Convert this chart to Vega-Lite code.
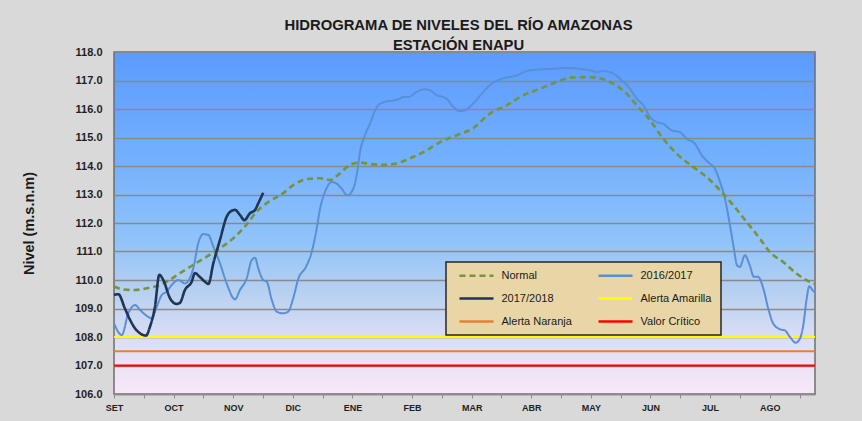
{
  "$schema": "https://vega.github.io/schema/vega-lite/v6.json",
  "width": 701,
  "height": 342,
  "autosize": {"type": "none"},
  "padding": {"left": 114, "top": 52, "right": 47, "bottom": 27},
  "background": "#d9d9d9",
  "title": {
    "text": ["HIDROGRAMA DE NIVELES DEL RÍO AMAZONAS", "ESTACIÓN ENAPU"],
    "font": "Liberation Sans",
    "fontSize": 14.8,
    "fontWeight": "bold",
    "color": "#1a1a1a",
    "lineHeight": 20,
    "anchor": "middle",
    "frame": "group",
    "dx": -6,
    "offset": -7
  },
  "config": {
    "view": {
      "fill": {
        "gradient": "linear",
        "x1": 0, "y1": 0, "x2": 0, "y2": 1,
        "stops": [
          {"offset": 0, "color": "#5b9bff"},
          {"offset": 0.3, "color": "#72affd"},
          {"offset": 0.55, "color": "#90c3f9"},
          {"offset": 0.7, "color": "#b6d0f1"},
          {"offset": 0.84, "color": "#dcdef4"},
          {"offset": 1, "color": "#f8e8f8"}
        ]
      },
      "stroke": "#6e6e6e",
      "strokeWidth": 1.5
    },
    "legend": {
      "fillColor": "#e9d6a6",
      "strokeColor": "#262626",
      "strokeWidth": 1.5,
      "padding": 8,
      "labelFont": "Liberation Sans",
      "labelFontSize": 11,
      "labelColor": "#1a1a1a",
      "labelOffset": 36.5,
      "symbolType": "M0,0H8",
      "symbolSize": 72.25,
      "symbolStrokeWidth": 2.5,
      "rowPadding": 11,
      "columnPadding": 21,
      "direction": "horizontal"
    }
  },
  "datasets": {
    "series": [
      {"serie": "Alerta Amarilla", "dia": 0, "nivel": 108.0},
      {"serie": "Alerta Amarilla", "dia": 352.8, "nivel": 108.0},
      {"serie": "Alerta Naranja", "dia": 0, "nivel": 107.5},
      {"serie": "Alerta Naranja", "dia": 352.8, "nivel": 107.5},
      {"serie": "Valor Crítico", "dia": 0, "nivel": 107.0},
      {"serie": "Valor Crítico", "dia": 352.8, "nivel": 107.0},

      {"serie": "2016/2017", "dia": 0, "nivel": 108.48},
      {"serie": "2016/2017", "dia": 3.9, "nivel": 108.07},
      {"serie": "2016/2017", "dia": 7.2, "nivel": 108.83},
      {"serie": "2016/2017", "dia": 10.6, "nivel": 109.12},
      {"serie": "2016/2017", "dia": 13.1, "nivel": 108.95},
      {"serie": "2016/2017", "dia": 16.5, "nivel": 108.74},
      {"serie": "2016/2017", "dia": 19.0, "nivel": 108.66},
      {"serie": "2016/2017", "dia": 21.5, "nivel": 109.06},
      {"serie": "2016/2017", "dia": 24.0, "nivel": 109.47},
      {"serie": "2016/2017", "dia": 26.5, "nivel": 109.59},
      {"serie": "2016/2017", "dia": 29.0, "nivel": 109.82},
      {"serie": "2016/2017", "dia": 32.4, "nivel": 110.0},
      {"serie": "2016/2017", "dia": 35.7, "nivel": 109.88},
      {"serie": "2016/2017", "dia": 39.9, "nivel": 110.41},
      {"serie": "2016/2017", "dia": 42.4, "nivel": 111.29},
      {"serie": "2016/2017", "dia": 44.9, "nivel": 111.61},
      {"serie": "2016/2017", "dia": 47.5, "nivel": 111.58},
      {"serie": "2016/2017", "dia": 50.0, "nivel": 111.17},
      {"serie": "2016/2017", "dia": 53.3, "nivel": 110.59},
      {"serie": "2016/2017", "dia": 56.7, "nivel": 109.88},
      {"serie": "2016/2017", "dia": 60.9, "nivel": 109.32},
      {"serie": "2016/2017", "dia": 63.4, "nivel": 109.65},
      {"serie": "2016/2017", "dia": 66.8, "nivel": 110.06},
      {"serie": "2016/2017", "dia": 69.3, "nivel": 110.7},
      {"serie": "2016/2017", "dia": 71.0, "nivel": 110.78},
      {"serie": "2016/2017", "dia": 72.6, "nivel": 110.41},
      {"serie": "2016/2017", "dia": 75.1, "nivel": 110.0},
      {"serie": "2016/2017", "dia": 76.9, "nivel": 109.94},
      {"serie": "2016/2017", "dia": 79.4, "nivel": 109.3},
      {"serie": "2016/2017", "dia": 81.9, "nivel": 108.89},
      {"serie": "2016/2017", "dia": 85.2, "nivel": 108.83},
      {"serie": "2016/2017", "dia": 87.7, "nivel": 108.89},
      {"serie": "2016/2017", "dia": 90.2, "nivel": 109.36},
      {"serie": "2016/2017", "dia": 92.8, "nivel": 110.05},
      {"serie": "2016/2017", "dia": 96.6, "nivel": 110.46},
      {"serie": "2016/2017", "dia": 99.5, "nivel": 110.98},
      {"serie": "2016/2017", "dia": 102.0, "nivel": 111.8},
      {"serie": "2016/2017", "dia": 103.7, "nivel": 112.5},
      {"serie": "2016/2017", "dia": 106.2, "nivel": 113.09},
      {"serie": "2016/2017", "dia": 109.6, "nivel": 113.44},
      {"serie": "2016/2017", "dia": 112.1, "nivel": 113.38},
      {"serie": "2016/2017", "dia": 114.6, "nivel": 113.2},
      {"serie": "2016/2017", "dia": 117.4, "nivel": 112.97},
      {"serie": "2016/2017", "dia": 120.4, "nivel": 113.2},
      {"serie": "2016/2017", "dia": 122.4, "nivel": 113.79},
      {"serie": "2016/2017", "dia": 123.8, "nivel": 114.49},
      {"serie": "2016/2017", "dia": 126.3, "nivel": 115.08},
      {"serie": "2016/2017", "dia": 128.8, "nivel": 115.48},
      {"serie": "2016/2017", "dia": 131.4, "nivel": 115.95},
      {"serie": "2016/2017", "dia": 133.0, "nivel": 116.13},
      {"serie": "2016/2017", "dia": 136.4, "nivel": 116.25},
      {"serie": "2016/2017", "dia": 140.6, "nivel": 116.3},
      {"serie": "2016/2017", "dia": 143.9, "nivel": 116.36},
      {"serie": "2016/2017", "dia": 145.6, "nivel": 116.42},
      {"serie": "2016/2017", "dia": 148.1, "nivel": 116.42},
      {"serie": "2016/2017", "dia": 152.3, "nivel": 116.6},
      {"serie": "2016/2017", "dia": 156.0, "nivel": 116.69},
      {"serie": "2016/2017", "dia": 159.0, "nivel": 116.66},
      {"serie": "2016/2017", "dia": 162.4, "nivel": 116.48},
      {"serie": "2016/2017", "dia": 165.7, "nivel": 116.42},
      {"serie": "2016/2017", "dia": 167.4, "nivel": 116.36},
      {"serie": "2016/2017", "dia": 170.8, "nivel": 116.07},
      {"serie": "2016/2017", "dia": 174.1, "nivel": 115.92},
      {"serie": "2016/2017", "dia": 176.6, "nivel": 115.95},
      {"serie": "2016/2017", "dia": 180.8, "nivel": 116.19},
      {"serie": "2016/2017", "dia": 185.1, "nivel": 116.54},
      {"serie": "2016/2017", "dia": 190.1, "nivel": 116.89},
      {"serie": "2016/2017", "dia": 195.1, "nivel": 117.06},
      {"serie": "2016/2017", "dia": 202.7, "nivel": 117.18},
      {"serie": "2016/2017", "dia": 207.7, "nivel": 117.33},
      {"serie": "2016/2017", "dia": 214.4, "nivel": 117.39},
      {"serie": "2016/2017", "dia": 221.1, "nivel": 117.41},
      {"serie": "2016/2017", "dia": 227.8, "nivel": 117.44},
      {"serie": "2016/2017", "dia": 234.5, "nivel": 117.41},
      {"serie": "2016/2017", "dia": 239.6, "nivel": 117.36},
      {"serie": "2016/2017", "dia": 242.9, "nivel": 117.3},
      {"serie": "2016/2017", "dia": 246.3, "nivel": 117.33},
      {"serie": "2016/2017", "dia": 251.3, "nivel": 117.24},
      {"serie": "2016/2017", "dia": 255.5, "nivel": 117.01},
      {"serie": "2016/2017", "dia": 259.7, "nivel": 116.71},
      {"serie": "2016/2017", "dia": 263.1, "nivel": 116.36},
      {"serie": "2016/2017", "dia": 266.4, "nivel": 116.13},
      {"serie": "2016/2017", "dia": 269.8, "nivel": 115.72},
      {"serie": "2016/2017", "dia": 273.1, "nivel": 115.54},
      {"serie": "2016/2017", "dia": 276.4, "nivel": 115.48},
      {"serie": "2016/2017", "dia": 280.7, "nivel": 115.25},
      {"serie": "2016/2017", "dia": 284.8, "nivel": 115.19},
      {"serie": "2016/2017", "dia": 288.2, "nivel": 114.96},
      {"serie": "2016/2017", "dia": 292.4, "nivel": 114.78},
      {"serie": "2016/2017", "dia": 295.8, "nivel": 114.38},
      {"serie": "2016/2017", "dia": 299.9, "nivel": 114.08},
      {"serie": "2016/2017", "dia": 302.4, "nivel": 113.91},
      {"serie": "2016/2017", "dia": 305.0, "nivel": 113.44},
      {"serie": "2016/2017", "dia": 307.5, "nivel": 112.85},
      {"serie": "2016/2017", "dia": 310.0, "nivel": 111.92},
      {"serie": "2016/2017", "dia": 311.7, "nivel": 111.22},
      {"serie": "2016/2017", "dia": 313.7, "nivel": 110.5},
      {"serie": "2016/2017", "dia": 315.0, "nivel": 110.46},
      {"serie": "2016/2017", "dia": 317.5, "nivel": 110.87},
      {"serie": "2016/2017", "dia": 319.7, "nivel": 110.57},
      {"serie": "2016/2017", "dia": 322.1, "nivel": 110.11},
      {"serie": "2016/2017", "dia": 324.2, "nivel": 110.11},
      {"serie": "2016/2017", "dia": 326.8, "nivel": 109.7},
      {"serie": "2016/2017", "dia": 329.3, "nivel": 108.99},
      {"serie": "2016/2017", "dia": 331.8, "nivel": 108.47},
      {"serie": "2016/2017", "dia": 335.2, "nivel": 108.27},
      {"serie": "2016/2017", "dia": 337.7, "nivel": 108.23},
      {"serie": "2016/2017", "dia": 340.2, "nivel": 108.0},
      {"serie": "2016/2017", "dia": 343.1, "nivel": 107.8},
      {"serie": "2016/2017", "dia": 345.2, "nivel": 107.94},
      {"serie": "2016/2017", "dia": 346.9, "nivel": 108.41},
      {"serie": "2016/2017", "dia": 348.6, "nivel": 109.34},
      {"serie": "2016/2017", "dia": 349.9, "nivel": 109.78},
      {"serie": "2016/2017", "dia": 351.6, "nivel": 109.64},
      {"serie": "2016/2017", "dia": 352.8, "nivel": 109.56},

      {"serie": "Normal", "dia": 0, "nivel": 109.77},
      {"serie": "Normal", "dia": 4.7, "nivel": 109.67},
      {"serie": "Normal", "dia": 10.6, "nivel": 109.65},
      {"serie": "Normal", "dia": 16.5, "nivel": 109.71},
      {"serie": "Normal", "dia": 21.5, "nivel": 109.79},
      {"serie": "Normal", "dia": 26.5, "nivel": 109.94},
      {"serie": "Normal", "dia": 33.2, "nivel": 110.24},
      {"serie": "Normal", "dia": 39.9, "nivel": 110.53},
      {"serie": "Normal", "dia": 46.7, "nivel": 110.82},
      {"serie": "Normal", "dia": 53.3, "nivel": 111.11},
      {"serie": "Normal", "dia": 60.0, "nivel": 111.46},
      {"serie": "Normal", "dia": 66.8, "nivel": 111.95},
      {"serie": "Normal", "dia": 71.8, "nivel": 112.4},
      {"serie": "Normal", "dia": 76.9, "nivel": 112.7},
      {"serie": "Normal", "dia": 85.2, "nivel": 113.05},
      {"serie": "Normal", "dia": 90.2, "nivel": 113.33},
      {"serie": "Normal", "dia": 97.0, "nivel": 113.54},
      {"serie": "Normal", "dia": 103.7, "nivel": 113.57},
      {"serie": "Normal", "dia": 108.7, "nivel": 113.51},
      {"serie": "Normal", "dia": 113.7, "nivel": 113.74},
      {"serie": "Normal", "dia": 118.8, "nivel": 114.04},
      {"serie": "Normal", "dia": 123.8, "nivel": 114.12},
      {"serie": "Normal", "dia": 128.8, "nivel": 114.07},
      {"serie": "Normal", "dia": 135.5, "nivel": 114.04},
      {"serie": "Normal", "dia": 142.3, "nivel": 114.09},
      {"serie": "Normal", "dia": 149.0, "nivel": 114.27},
      {"serie": "Normal", "dia": 157.4, "nivel": 114.55},
      {"serie": "Normal", "dia": 164.1, "nivel": 114.84},
      {"serie": "Normal", "dia": 172.5, "nivel": 115.08},
      {"serie": "Normal", "dia": 180.8, "nivel": 115.33},
      {"serie": "Normal", "dia": 189.2, "nivel": 115.84},
      {"serie": "Normal", "dia": 197.6, "nivel": 116.13},
      {"serie": "Normal", "dia": 206.0, "nivel": 116.48},
      {"serie": "Normal", "dia": 214.4, "nivel": 116.71},
      {"serie": "Normal", "dia": 222.8, "nivel": 116.95},
      {"serie": "Normal", "dia": 231.2, "nivel": 117.11},
      {"serie": "Normal", "dia": 239.6, "nivel": 117.12},
      {"serie": "Normal", "dia": 246.3, "nivel": 117.04},
      {"serie": "Normal", "dia": 251.3, "nivel": 116.89},
      {"serie": "Normal", "dia": 258.0, "nivel": 116.54},
      {"serie": "Normal", "dia": 263.1, "nivel": 116.13},
      {"serie": "Normal", "dia": 269.8, "nivel": 115.6},
      {"serie": "Normal", "dia": 276.4, "nivel": 114.96},
      {"serie": "Normal", "dia": 283.2, "nivel": 114.43},
      {"serie": "Normal", "dia": 291.6, "nivel": 113.96},
      {"serie": "Normal", "dia": 298.3, "nivel": 113.61},
      {"serie": "Normal", "dia": 305.0, "nivel": 113.15},
      {"serie": "Normal", "dia": 311.7, "nivel": 112.62},
      {"serie": "Normal", "dia": 318.4, "nivel": 112.04},
      {"serie": "Normal", "dia": 325.1, "nivel": 111.45},
      {"serie": "Normal", "dia": 330.1, "nivel": 110.98},
      {"serie": "Normal", "dia": 336.8, "nivel": 110.63},
      {"serie": "Normal", "dia": 343.6, "nivel": 110.22},
      {"serie": "Normal", "dia": 348.6, "nivel": 109.99},
      {"serie": "Normal", "dia": 352.8, "nivel": 109.87},

      {"serie": "2017/2018", "dia": 0, "nivel": 109.48},
      {"serie": "2017/2018", "dia": 2.2, "nivel": 109.5},
      {"serie": "2017/2018", "dia": 5.5, "nivel": 109.0},
      {"serie": "2017/2018", "dia": 8.1, "nivel": 108.6},
      {"serie": "2017/2018", "dia": 10.6, "nivel": 108.3},
      {"serie": "2017/2018", "dia": 13.1, "nivel": 108.13},
      {"serie": "2017/2018", "dia": 16.1, "nivel": 108.05},
      {"serie": "2017/2018", "dia": 18.1, "nivel": 108.36},
      {"serie": "2017/2018", "dia": 20.6, "nivel": 109.06},
      {"serie": "2017/2018", "dia": 22.8, "nivel": 110.18},
      {"serie": "2017/2018", "dia": 24.8, "nivel": 110.0},
      {"serie": "2017/2018", "dia": 28.2, "nivel": 109.36},
      {"serie": "2017/2018", "dia": 31.5, "nivel": 109.16},
      {"serie": "2017/2018", "dia": 33.2, "nivel": 109.2},
      {"serie": "2017/2018", "dia": 35.7, "nivel": 109.65},
      {"serie": "2017/2018", "dia": 39.1, "nivel": 109.94},
      {"serie": "2017/2018", "dia": 40.7, "nivel": 110.24},
      {"serie": "2017/2018", "dia": 43.3, "nivel": 110.1},
      {"serie": "2017/2018", "dia": 45.8, "nivel": 109.94},
      {"serie": "2017/2018", "dia": 47.5, "nivel": 109.86},
      {"serie": "2017/2018", "dia": 50.0, "nivel": 110.59},
      {"serie": "2017/2018", "dia": 53.3, "nivel": 111.4},
      {"serie": "2017/2018", "dia": 56.7, "nivel": 112.22},
      {"serie": "2017/2018", "dia": 59.0, "nivel": 112.42},
      {"serie": "2017/2018", "dia": 60.9, "nivel": 112.46},
      {"serie": "2017/2018", "dia": 63.4, "nivel": 112.28},
      {"serie": "2017/2018", "dia": 65.6, "nivel": 112.1},
      {"serie": "2017/2018", "dia": 68.4, "nivel": 112.34},
      {"serie": "2017/2018", "dia": 71.0, "nivel": 112.46},
      {"serie": "2017/2018", "dia": 72.6, "nivel": 112.69},
      {"serie": "2017/2018", "dia": 75.1, "nivel": 113.06}
    ]
  },
  "data": {"name": "series"},
  "encoding": {
    "x": {
      "field": "dia",
      "type": "quantitative",
      "scale": {"domain": [0, 352.8], "nice": false, "zero": false},
      "axis": {
        "title": null,
        "grid": false,
        "values": [0, 15, 30, 45, 60, 75, 90, 105, 120, 135, 150, 165, 180, 195, 210, 225, 240, 255, 270, 285, 300, 315, 330, 345],
        "labelExpr": "datum.value % 30 == 0 ? ['SET','OCT','NOV','DIC','ENE','FEB','MAR','ABR','MAY','JUN','JUL','AGO'][datum.value / 30] : ''",
        "labelFont": "Liberation Sans",
        "labelFontSize": 9,
        "labelFontWeight": "bold",
        "labelColor": "#1f1f1f",
        "labelPadding": 5,
        "labelFlush": false,
        "labelOverlap": false,
        "tickColor": "#8c8c8c",
        "tickSize": 4,
        "domainColor": "#8c8c8c",
        "domainWidth": 1.5
      }
    },
    "y": {
      "field": "nivel",
      "type": "quantitative",
      "scale": {"domain": [106, 118], "nice": false, "zero": false},
      "axis": {
        "values": [106, 107, 108, 109, 110, 111, 112, 113, 114, 115, 116, 117, 118],
        "format": ".1f",
        "grid": true,
        "gridColor": "#8a8a8a",
        "gridWidth": 1.5,
        "ticks": false,
        "domain": false,
        "labelFont": "Liberation Sans",
        "labelFontSize": 11,
        "labelFontWeight": "bold",
        "labelColor": "#1f1f1f",
        "labelPadding": 12,
        "title": "Nivel (m.s.n.m)",
        "titleFont": "Liberation Sans",
        "titleFontSize": 14.5,
        "titleFontWeight": "bold",
        "titleColor": "#1a1a1a",
        "titlePadding": 38
      }
    },
    "color": {
      "field": "serie",
      "type": "nominal",
      "scale": {
        "domain": ["Normal", "2016/2017", "2017/2018", "Alerta Amarilla", "Alerta Naranja", "Valor Crítico"],
        "range": ["#77933c", "#5a8fd6", "#1f3556", "#ffff00", "#ed7d31", "#ff0000"]
      },
      "legend": {"title": null, "orient": "none", "legendX": 332, "legendY": 210, "columns": 2, "direction": "horizontal"}
    },
    "strokeDash": {
      "field": "serie",
      "type": "nominal",
      "scale": {
        "domain": ["Normal", "2016/2017", "2017/2018", "Alerta Amarilla", "Alerta Naranja", "Valor Crítico"],
        "range": [[6, 4], [1, 0], [1, 0], [1, 0], [1, 0], [1, 0]]
      },
      "legend": {"title": null, "orient": "none", "legendX": 332, "legendY": 210, "columns": 2, "direction": "horizontal"}
    }
  },
  "layer": [
    {
      "transform": [{"filter": "indexof(['Alerta Amarilla','Alerta Naranja','Valor Crítico'], datum.serie) >= 0"}],
      "mark": {"type": "line", "strokeWidth": 2}
    },
    {
      "transform": [{"filter": "datum.serie == '2016/2017'"}],
      "mark": {"type": "line", "strokeWidth": 2, "interpolate": "monotone"}
    },
    {
      "transform": [{"filter": "datum.serie == 'Normal'"}],
      "mark": {"type": "line", "strokeWidth": 2.6, "interpolate": "monotone"}
    },
    {
      "transform": [{"filter": "datum.serie == '2017/2018'"}],
      "mark": {"type": "line", "strokeWidth": 2.6, "interpolate": "monotone"}
    }
  ]
}
